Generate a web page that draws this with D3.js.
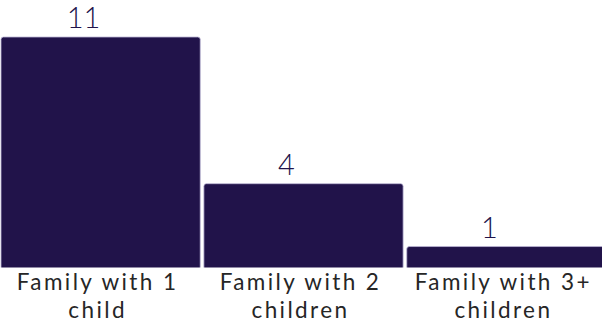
<!DOCTYPE html>
<html><head><meta charset="utf-8">
<script src="https://cdn.jsdelivr.net/npm/d3@7"></script>
<style>html,body{margin:0;padding:0;background:#fff;}svg{display:block;}</style>
</head><body>
<script>
const categories = ["Family with 1 child", "Family with 2 children", "Family with 3+ children"];
const labelLines = [["Family with 1", "child"], ["Family with 2", "children"], ["Family with 3+", "children"]];
const values = [11, 4, 1];

const W = 602, H = 325;
const baseline = 267.5;
const svg = d3.select("body").append("svg").attr("width", W).attr("height", H);

const x = d3.scaleBand().domain(categories).range([0, 607]).paddingInner(0.018).paddingOuter(0.005);
const y = d3.scaleLinear().domain([0, 11]).range([baseline, 37]);

svg.selectAll("rect.bar").data(values).enter().append("rect")
  .attr("class", "bar")
  .attr("x", (d, i) => x(categories[i]))
  .attr("y", d => y(d))
  .attr("width", x.bandwidth())
  .attr("height", d => baseline - y(d) + 3)
  .attr("rx", 2.5)
  .attr("fill", "#21134a")
  .attr("stroke", "#bdb6d6")
  .attr("stroke-width", 0.8);

// cover rounded bottom
svg.append("rect").attr("x", 0).attr("y", baseline).attr("width", W).attr("height", 10).attr("fill", "#fff");

svg.selectAll("text.val").data(values).enter().append("text")
  .attr("class", "val")
  .attr("x", (d, i) => x(categories[i]) + x.bandwidth() / 2 - 17)
  .attr("y", d => y(d) - 9)
  .attr("text-anchor", "middle")
  .attr("font-family", "Lato, 'Open Sans', sans-serif")
  .attr("font-weight", 300)
  .attr("font-size", 29)
  .attr("fill", "#21134a")
  .text(d => d);

const g = svg.selectAll("text.cat").data(categories).enter().append("text")
  .attr("class", "cat")
  .attr("text-anchor", "middle")
  .attr("font-family", "Lato, 'Open Sans', sans-serif")
  .attr("font-size", 22.5)
  .attr("letter-spacing", 2.4)
  .attr("fill", "#262626");
g.each(function(d, i) {
  const t = d3.select(this);
  const cx = x(d) + x.bandwidth() / 2 - 3;
  labelLines[i].forEach((ln, j) => {
    t.append("tspan").attr("x", cx).attr("y", 290 + j * 27.5).text(ln);
  });
});
</script>
</body></html>
